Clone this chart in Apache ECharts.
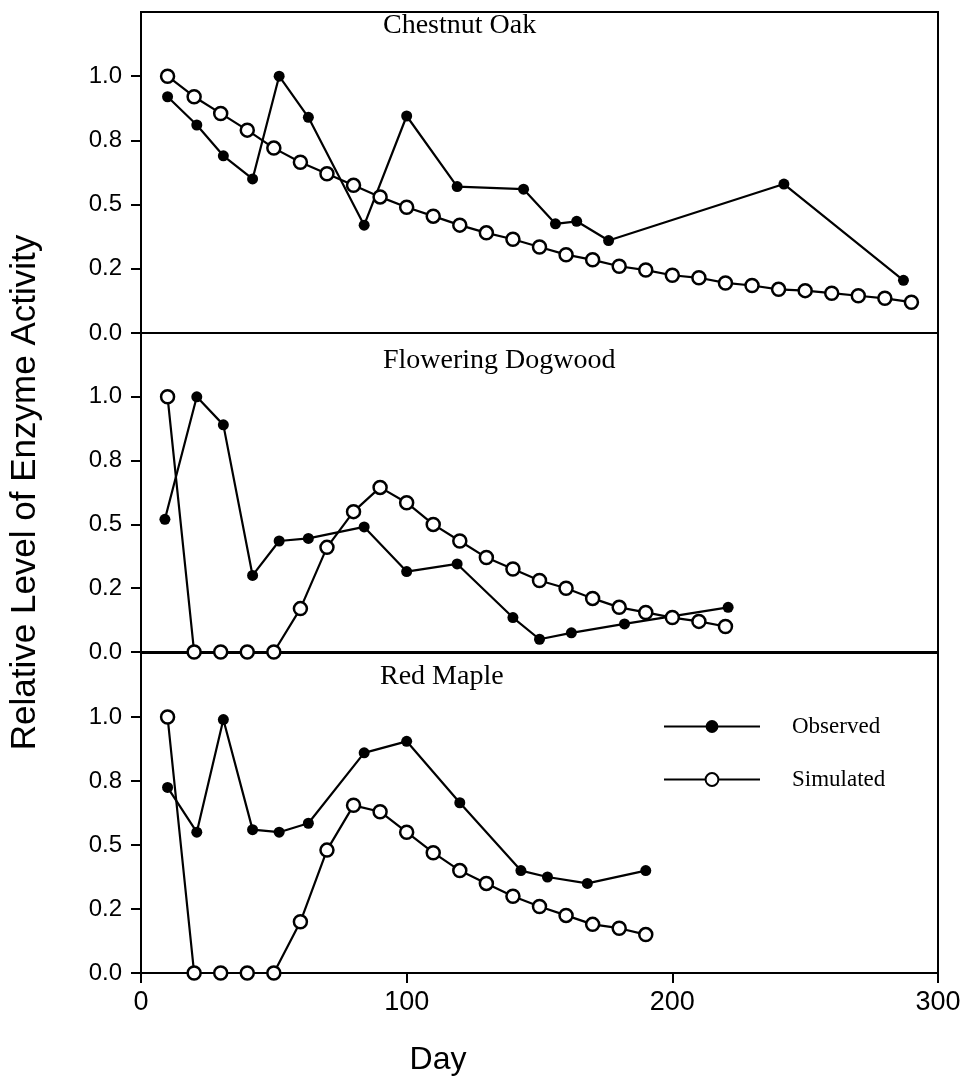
<!DOCTYPE html>
<html>
<head>
<meta charset="utf-8">
<title>Relative Level of Enzyme Activity</title>
<script src="https://cdn.jsdelivr.net/npm/echarts@6/dist/echarts.min.js"></script>
<style>
  html, body { margin: 0; padding: 0; background: #fff; }
  #chart { width: 960px; height: 1085px; }
</style>
</head>
<body>
<div id="chart"></div>
<script>
// panel titles
const panelNames = ['Chestnut Oak', 'Flowering Dogwood', 'Red Maple']
const yTickValues = [0, 0.25, 0.5, 0.75, 1]
const yTickLabels = ['0.0', '0.2', '0.5', '0.8', '1.0']
const xTickLabels = ['0', '100', '200', '300']

// Chestnut Oak
const oakObsDays = [10, 21, 31, 42, 52, 63, 84, 100, 119, 144, 156, 164, 176, 242, 287]
const oakObsVals = [0.92, 0.81, 0.69, 0.6, 1.0, 0.84, 0.42, 0.845, 0.57, 0.56, 0.425, 0.435, 0.36, 0.58, 0.205]
const oakSimDays = [10, 20, 30, 40, 50, 60, 70, 80, 90, 100, 110, 120, 130, 140, 150,
  160, 170, 180, 190, 200, 210, 220, 230, 240, 250, 260, 270, 280, 290]
const oakSimVals = [1.0, 0.92, 0.855, 0.79, 0.72, 0.665, 0.62, 0.575, 0.53, 0.49, 0.455, 0.42, 0.39, 0.365, 0.335,
  0.305, 0.285, 0.26, 0.245, 0.225, 0.215, 0.195, 0.185, 0.17, 0.165, 0.155, 0.145, 0.135, 0.12]

// Flowering Dogwood
const dogObsDays = [9, 21, 31, 42, 52, 63, 84, 100, 119, 140, 150, 162, 182, 221]
const dogObsVals = [0.52, 1.0, 0.89, 0.3, 0.435, 0.445, 0.49, 0.315, 0.345, 0.135, 0.05, 0.075, 0.11, 0.175]
const dogSimDays = [10, 20, 30, 40, 50, 60, 70, 80, 90, 100, 110, 120, 130, 140, 150, 160, 170, 180, 190, 200, 210, 220]
const dogSimVals = [1.0, 0, 0, 0, 0, 0.17, 0.41, 0.55, 0.645, 0.585, 0.5, 0.435, 0.37, 0.325, 0.28, 0.25, 0.21, 0.175, 0.155, 0.135, 0.12, 0.1]

// Red Maple
const mapleObsDays = [10, 21, 31, 42, 52, 63, 84, 100, 120, 143, 153, 168, 190]
const mapleObsVals = [0.725, 0.55, 0.99, 0.56, 0.55, 0.585, 0.86, 0.905, 0.665, 0.4, 0.375, 0.35, 0.4]
const mapleSimDays = [10, 20, 30, 40, 50, 60, 70, 80, 90, 100, 110, 120, 130, 140, 150, 160, 170, 180, 190]
const mapleSimVals = [1.0, 0, 0, 0, 0, 0.2, 0.48, 0.655, 0.63, 0.55, 0.47, 0.4, 0.35, 0.3, 0.26, 0.225, 0.19, 0.175, 0.15]

const panels = [
  { obsDays: oakObsDays, obsVals: oakObsVals, simDays: oakSimDays, simVals: oakSimVals },
  { obsDays: dogObsDays, obsVals: dogObsVals, simDays: dogSimDays, simVals: dogSimVals },
  { obsDays: mapleObsDays, obsVals: mapleObsVals, simDays: mapleSimDays, simVals: mapleSimVals }
]

const zip = (xs, ys) => xs.map((x, i) => [x, ys[i]])

const gridTops = [12, 333, 653]
const gridHeights = [321, 319, 320]
const titleTops = [12, 347, 663]
const titleLefts = [383, 383, 380]

const chart = echarts.init(document.getElementById('chart'))

// outerBoundsMode none: keep the three panels exactly aligned
const grids = gridTops.map((top, i) => ({
  left: 141,
  right: 22,
  top: top,
  height: gridHeights[i],
  show: true,
  borderColor: '#000',
  borderWidth: 2,
  containLabel: false,
  outerBoundsMode: 'none'
}))

const xAxes = gridTops.map((_, i) => {
  const last = i === gridTops.length - 1
  return {
    type: 'value',
    gridIndex: i,
    min: 0,
    max: 300,
    interval: 100,
    axisLine: { show: true, onZero: false, lineStyle: { color: '#000', width: 2 } },
    axisTick: { show: last, length: 10, lineStyle: { color: '#000', width: 2 } },
    axisLabel: {
      show: last,
      margin: 16,
      color: '#000',
      fontFamily: 'Liberation Sans',
      fontSize: 27,
      formatter: v => xTickLabels[Math.round(v / 100)]
    },
    splitLine: { show: false }
  }
})

const yAxes = gridTops.map((_, i) => ({
  type: 'value',
  gridIndex: i,
  min: 0,
  max: 1.25,
  interval: 0.25,
  name: i === 1 ? 'Relative Level of Enzyme Activity' : '',
  nameLocation: 'middle',
  nameGap: 98,
  nameTextStyle: { color: '#000', fontFamily: 'Liberation Sans', fontSize: 35 },
  axisLine: { show: true, lineStyle: { color: '#000', width: 2 } },
  axisTick: { show: true, length: 10, customValues: yTickValues, lineStyle: { color: '#000', width: 2 } },
  axisLabel: {
    customValues: yTickValues,
    margin: 19,
    color: '#000',
    fontFamily: 'Liberation Sans',
    fontSize: 24,
    formatter: v => yTickLabels[Math.round(v / 0.25)]
  },
  splitLine: { show: false }
}))

const series = []
panels.forEach((p, i) => {
  series.push({
    name: 'Observed',
    type: 'line',
    xAxisIndex: i,
    yAxisIndex: i,
    data: zip(p.obsDays, p.obsVals),
    symbol: 'circle',
    symbolSize: 11,
    lineStyle: { color: '#000', width: 2.2 },
    itemStyle: { color: '#000' },
    z: 3
  })
  series.push({
    name: 'Simulated',
    type: 'line',
    xAxisIndex: i,
    yAxisIndex: i,
    data: zip(p.simDays, p.simVals),
    symbol: 'circle',
    symbolSize: 13,
    showAllSymbol: true,
    lineStyle: { color: '#000', width: 2.2 },
    itemStyle: { color: '#fff', borderColor: '#000', borderWidth: 2.5 },
    z: 4
  })
})

const option = {
  backgroundColor: '#fff',
  animation: false,
  title: panelNames.map((name, i) => ({
    text: name,
    left: titleLefts[i],
    top: titleTops[i],
    padding: 0,
    textStyle: { fontFamily: 'Liberation Serif', fontSize: 28, fontWeight: 'normal', color: '#000' }
  })),
  legend: {
    data: ['Observed', 'Simulated'],
    orient: 'vertical',
    left: 663,
    top: 715,
    padding: 0,
    itemWidth: 96,
    itemHeight: 16,
    itemGap: 30,
    textStyle: { fontFamily: 'Liberation Serif', fontSize: 23, color: '#000', padding: [0, 0, 0, 27] }
  },
  graphic: [{
    type: 'text',
    x: 438,
    y: 1060,
    style: {
      text: 'Day',
      font: '32px "Liberation Sans"',
      fill: '#000',
      align: 'center',
      verticalAlign: 'middle'
    }
  }],
  grid: grids,
  xAxis: xAxes,
  yAxis: yAxes,
  series: series
}

chart.setOption(option)
</script>
</body>
</html>
